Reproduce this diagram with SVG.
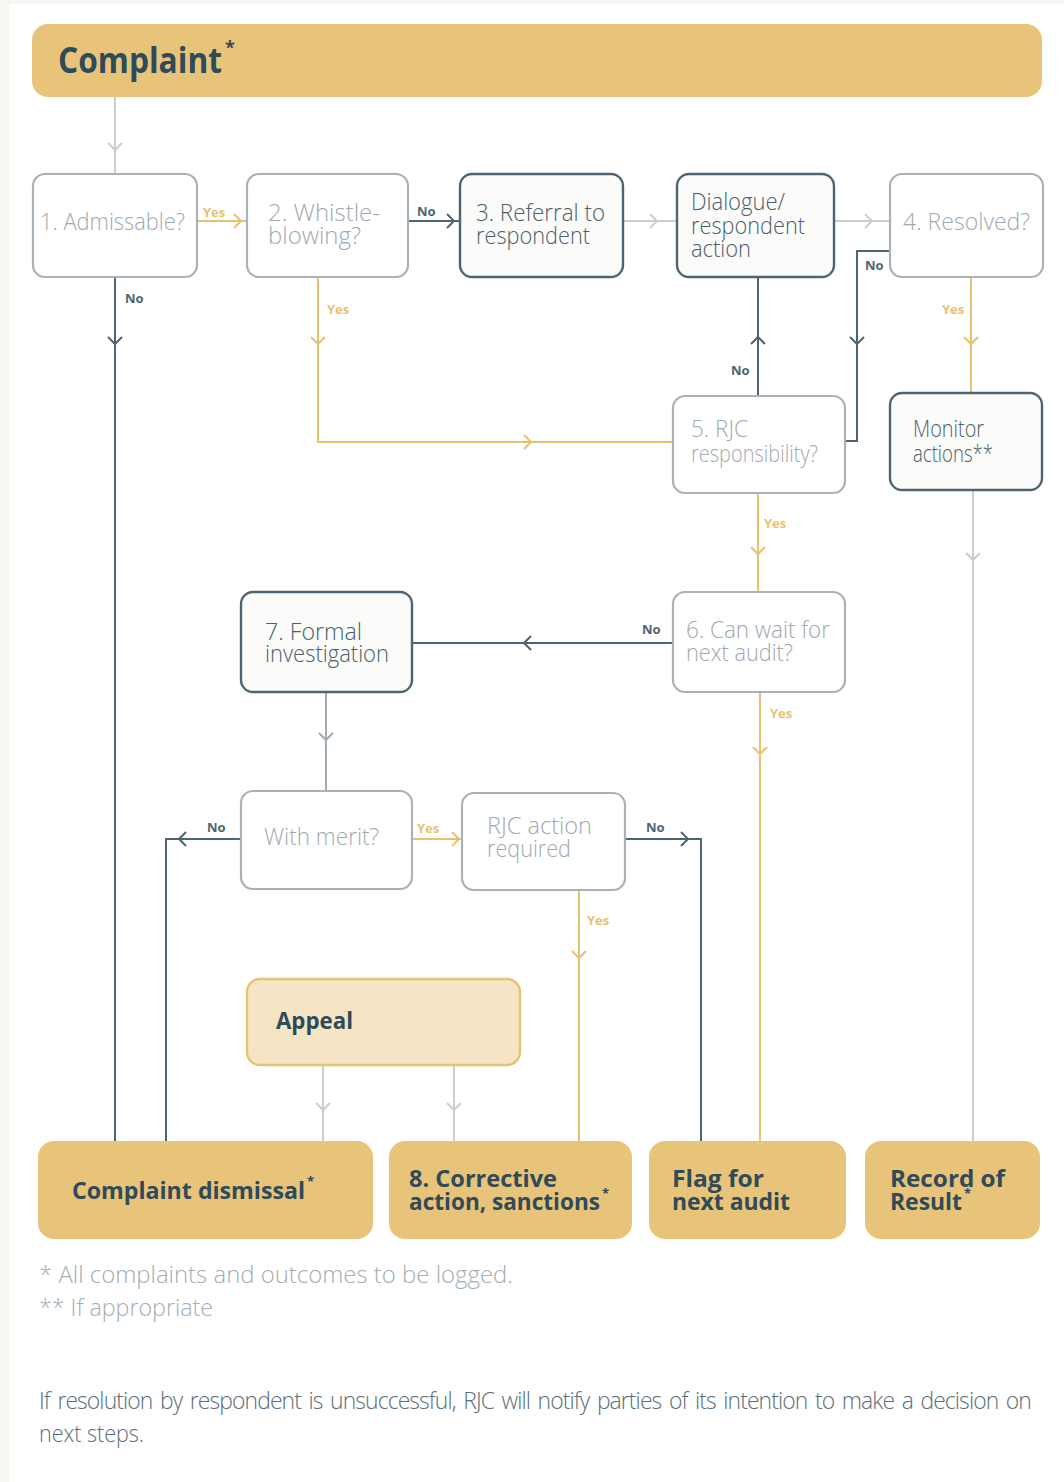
<svg xmlns="http://www.w3.org/2000/svg" width="1064" height="1482" viewBox="0 0 1064 1482">
<style>
.bg{fill:#f7f6f3}
.panel{fill:#ffffff}
.q{fill:#ffffff;stroke:#a9b2b9;stroke-width:2.2}
.d{fill:#fbfbf9;stroke:#4e6470;stroke-width:2.4}
.out{fill:#e8c37a}
.ap{fill:#f5e5c5;stroke:#e8c274;stroke-width:2.4}
.t{font-family:"Open Sans","Liberation Sans",sans-serif;font-weight:300;font-size:24px}
.tq{fill:#9fa9b0}
.td{fill:#4a5f6b}
.tb{font-family:"Open Sans","Liberation Sans",sans-serif;font-weight:700;fill:#2f4a58}
.lbl{font-family:"Open Sans","Liberation Sans",sans-serif;font-weight:700;font-size:13px}
.ly{fill:#e8c170}
.ln{fill:#4e6470}
.c{fill:none;stroke-width:2}
.cy{stroke:#e8c170}
.cn{stroke:#4e6470}
.cl{stroke:#c8ced3}
.cm{stroke:#a0aab1}
.foot{font-family:"Open Sans","Liberation Sans",sans-serif;font-weight:300;font-size:23px;fill:#a4adb3}
.note{font-family:"Open Sans","Liberation Sans",sans-serif;font-weight:300;font-size:23px;fill:#5a6e79}
</style>
<rect class="bg" x="0" y="0" width="1064" height="1482"/>
<rect class="panel" x="9" y="4" width="1055" height="1478"/>

<g id="connectors">
  <path class="c cl" d="M115,97 V174"/>
  <path class="c cl" d="M108,143 L115,150 L122,143"/>
  <path class="c cy" d="M197,221 H247"/>
  <path class="c cy" d="M234,214 L241,221 L234,228"/>
  <path class="c cn" d="M408,221 H460"/>
  <path class="c cn" d="M447,214 L454,221 L447,228"/>
  <path class="c cl" d="M623,221 H677"/>
  <path class="c cl" d="M650,214 L657,221 L650,228"/>
  <path class="c cl" d="M834,221 H890"/>
  <path class="c cl" d="M865,214 L872,221 L865,228"/>
  <path class="c cn" d="M115,277 V1141"/>
  <path class="c cn" d="M108,337 L115,344 L122,337"/>
  <path class="c cy" d="M318,277 V442 H673"/>
  <path class="c cy" d="M311,337 L318,344 L325,337"/>
  <path class="c cy" d="M524,435 L531,442 L524,449"/>
  <path class="c cn" d="M758,396 V277"/>
  <path class="c cn" d="M751,344 L758,337 L765,344"/>
  <path class="c cn" d="M890,251 H857 V441 H845"/>
  <path class="c cn" d="M850,337 L857,344 L864,337"/>
  <path class="c cy" d="M971,277 V393"/>
  <path class="c cy" d="M964,337 L971,344 L978,337"/>
  <path class="c cl" d="M973,490 V1141"/>
  <path class="c cl" d="M966,553 L973,560 L980,553"/>
  <path class="c cy" d="M758,493 V592"/>
  <path class="c cy" d="M751,547 L758,554 L765,547"/>
  <path class="c cn" d="M673,643 H412"/>
  <path class="c cn" d="M531,636 L524,643 L531,650"/>
  <path class="c cy" d="M760,692 V1141"/>
  <path class="c cy" d="M753,747 L760,754 L767,747"/>
  <path class="c cm" d="M326,692 V791"/>
  <path class="c cm" d="M319,733 L326,740 L333,733"/>
  <path class="c cn" d="M241,839 H166 V1141"/>
  <path class="c cn" d="M186,832 L179,839 L186,846"/>
  <path class="c cy" d="M412,839 H462"/>
  <path class="c cy" d="M452,832 L459,839 L452,846"/>
  <path class="c cn" d="M625,839 H701 V1141"/>
  <path class="c cn" d="M681,832 L688,839 L681,846"/>
  <path class="c cy" d="M579,890 V1141"/>
  <path class="c cy" d="M572,951 L579,958 L586,951"/>
  <path class="c cl" d="M323,1065 V1141"/>
  <path class="c cl" d="M316,1103 L323,1110 L330,1103"/>
  <path class="c cl" d="M454,1065 V1141"/>
  <path class="c cl" d="M447,1103 L454,1110 L461,1103"/>
  <text class="lbl ly" x="203" y="217" font-size="12">Yes</text>
  <text class="lbl ln" x="417" y="216">No</text>
  <text class="lbl ln" x="125" y="303">No</text>
  <text class="lbl ly" x="327" y="314">Yes</text>
  <text class="lbl ln" x="731" y="375">No</text>
  <text class="lbl ln" x="865" y="270">No</text>
  <text class="lbl ly" x="942" y="314">Yes</text>
  <text class="lbl ly" x="764" y="528">Yes</text>
  <text class="lbl ln" x="642" y="634">No</text>
  <text class="lbl ly" x="770" y="718">Yes</text>
  <text class="lbl ln" x="207" y="832">No</text>
  <text class="lbl ly" x="417" y="833">Yes</text>
  <text class="lbl ln" x="646" y="832">No</text>
  <text class="lbl ly" x="587" y="925">Yes</text>
</g>

<g id="complaint">
  <rect class="out" x="32" y="24" width="1010" height="73" rx="16"/>
  <text class="tb" x="58" y="73" font-size="36" textLength="164" lengthAdjust="spacingAndGlyphs">Complaint</text>
  <text class="tb" x="225" y="54" font-size="18" font-weight="400">*</text>
</g>

<g id="n1">
  <rect class="q" x="33" y="174" width="164" height="103" rx="12"/>
  <text class="t tq" x="40" y="230" textLength="145" lengthAdjust="spacingAndGlyphs">1. Admissable?</text>
</g>
<g id="n2">
  <rect class="q" x="247" y="174" width="161" height="103" rx="12"/>
  <text class="t tq" x="268" y="221" textLength="112" lengthAdjust="spacingAndGlyphs">2. Whistle-</text>
  <text class="t tq" x="268" y="244" textLength="93" lengthAdjust="spacingAndGlyphs">blowing?</text>
</g>
<g id="n3">
  <rect class="d" x="460" y="174" width="163" height="103" rx="12"/>
  <text class="t td" x="476" y="221" textLength="129" lengthAdjust="spacingAndGlyphs">3. Referral to</text>
  <text class="t td" x="476" y="244" textLength="114" lengthAdjust="spacingAndGlyphs">respondent</text>
</g>
<g id="dialogue">
  <rect class="d" x="677" y="174" width="157" height="103" rx="12"/>
  <text class="t td" x="691" y="210" textLength="94" lengthAdjust="spacingAndGlyphs">Dialogue/</text>
  <text class="t td" x="691" y="234" textLength="114" lengthAdjust="spacingAndGlyphs">respondent</text>
  <text class="t td" x="691" y="257" textLength="60" lengthAdjust="spacingAndGlyphs">action</text>
</g>
<g id="n4">
  <rect class="q" x="890" y="174" width="153" height="103" rx="12"/>
  <text class="t tq" x="903" y="230" textLength="127" lengthAdjust="spacingAndGlyphs">4. Resolved?</text>
</g>
<g id="n5">
  <rect class="q" x="673" y="396" width="172" height="97" rx="12"/>
  <text class="t tq" x="691" y="437" textLength="57" lengthAdjust="spacingAndGlyphs">5. RJC</text>
  <text class="t tq" x="691" y="462" textLength="127" lengthAdjust="spacingAndGlyphs">responsibility?</text>
</g>
<g id="monitor">
  <rect class="d" x="890" y="393" width="152" height="97" rx="12"/>
  <text class="t td" x="913" y="437" textLength="71" lengthAdjust="spacingAndGlyphs">Monitor</text>
  <text class="t td" x="913" y="462" textLength="80" lengthAdjust="spacingAndGlyphs">actions**</text>
</g>
<g id="n6">
  <rect class="q" x="673" y="592" width="172" height="100" rx="12"/>
  <text class="t tq" x="686" y="638" textLength="144" lengthAdjust="spacingAndGlyphs">6. Can wait for</text>
  <text class="t tq" x="686" y="661" textLength="107" lengthAdjust="spacingAndGlyphs">next audit?</text>
</g>
<g id="n7">
  <rect class="d" x="241" y="592" width="171" height="100" rx="12"/>
  <text class="t td" x="265" y="640" textLength="97" lengthAdjust="spacingAndGlyphs">7. Formal</text>
  <text class="t td" x="265" y="662" textLength="124" lengthAdjust="spacingAndGlyphs">investigation</text>
</g>
<g id="merit">
  <rect class="q" x="241" y="791" width="171" height="98" rx="12"/>
  <text class="t tq" x="264" y="845" textLength="115" lengthAdjust="spacingAndGlyphs">With merit?</text>
</g>
<g id="rjcaction">
  <rect class="q" x="462" y="793" width="163" height="97" rx="12"/>
  <text class="t tq" x="487" y="834" textLength="105" lengthAdjust="spacingAndGlyphs">RJC action</text>
  <text class="t tq" x="487" y="857" textLength="84" lengthAdjust="spacingAndGlyphs">required</text>
</g>
<g id="appeal">
  <rect class="ap" x="247" y="979" width="273" height="86" rx="13"/>
  <text class="tb" x="276" y="1029" font-size="24" textLength="77" lengthAdjust="spacingAndGlyphs">Appeal</text>
</g>

<g id="dismissal">
  <rect class="out" x="38" y="1141" width="335" height="98" rx="16"/>
  <text class="tb" x="72" y="1199" font-size="24" textLength="233" lengthAdjust="spacingAndGlyphs">Complaint dismissal</text>
  <text class="tb" x="307" y="1186" font-size="13" font-weight="400">*</text>
</g>
<g id="corrective">
  <rect class="out" x="389" y="1141" width="243" height="98" rx="16"/>
  <text class="tb" x="409" y="1187" font-size="24" textLength="148" lengthAdjust="spacingAndGlyphs">8. Corrective</text>
  <text class="tb" x="409" y="1210" font-size="24" textLength="191" lengthAdjust="spacingAndGlyphs">action, sanctions</text>
  <text class="tb" x="602" y="1198" font-size="13" font-weight="400">*</text>
</g>
<g id="flag">
  <rect class="out" x="649" y="1141" width="197" height="98" rx="16"/>
  <text class="tb" x="672" y="1187" font-size="24" textLength="92" lengthAdjust="spacingAndGlyphs">Flag for</text>
  <text class="tb" x="672" y="1210" font-size="24" textLength="118" lengthAdjust="spacingAndGlyphs">next audit</text>
</g>
<g id="record">
  <rect class="out" x="865" y="1141" width="175" height="98" rx="16"/>
  <text class="tb" x="890" y="1187" font-size="24" textLength="115" lengthAdjust="spacingAndGlyphs">Record of</text>
  <text class="tb" x="890" y="1210" font-size="24" textLength="72" lengthAdjust="spacingAndGlyphs">Result</text>
  <text class="tb" x="964" y="1198" font-size="13" font-weight="400">*</text>
</g>

<g id="notes">
  <text class="foot" x="39" y="1283" textLength="474" lengthAdjust="spacingAndGlyphs">* All complaints and outcomes to be logged.</text>
  <text class="foot" x="39" y="1316" textLength="174" lengthAdjust="spacingAndGlyphs">** If appropriate</text>
  <text class="note" x="39" y="1409" letter-spacing="-0.9" word-spacing="2.5" textLength="992" lengthAdjust="spacingAndGlyphs">If resolution by respondent is unsuccessful, RJC will notify parties of its intention to make a decision on</text>
  <text class="note" x="39" y="1442" textLength="105" lengthAdjust="spacingAndGlyphs">next steps.</text>
</g>
</svg>
